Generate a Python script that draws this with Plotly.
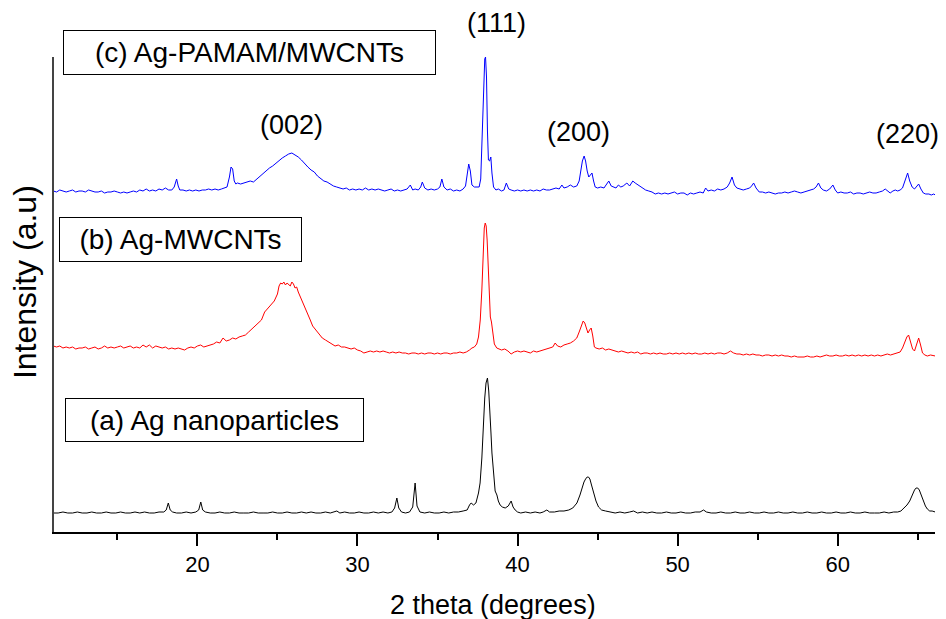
import plotly.graph_objects as go

# ---------------- data ----------------
# (c) Ag-PAMAM/MWCNTs  (blue)
two_theta_c = [
    11.0, 11.2, 11.4, 11.6, 11.8, 12.0, 12.2, 12.4, 12.6, 12.8,
    13.0, 13.2, 13.4, 13.6, 13.8, 14.0, 14.2, 14.4, 14.6, 14.8,
    15.0, 15.2, 15.4, 15.6, 15.8, 16.0, 16.2, 16.4, 16.6, 16.8,
    17.0, 17.2, 17.4, 17.6, 17.8, 18.0, 18.2, 18.4, 18.55, 18.7,
    18.8, 18.9, 19.1, 19.3, 19.5, 19.7, 19.9, 20.1, 20.3, 20.5,
    20.7, 20.9, 21.1, 21.3, 21.5, 21.7, 21.85, 22.0, 22.1, 22.2,
    22.3, 22.4, 22.5, 22.7, 22.9, 23.1, 23.3, 23.5, 23.7, 23.9,
    24.1, 24.3, 24.5, 24.7, 24.9, 25.1, 25.3, 25.5, 25.7, 25.9,
    26.1, 26.3, 26.5, 26.7, 26.9, 27.1, 27.3, 27.5, 27.7, 27.9,
    28.1, 28.3, 28.5, 28.7, 28.9, 29.1, 29.3, 29.5, 29.7, 29.9,
    30.1, 30.3, 30.5, 30.7, 30.9, 31.1, 31.3, 31.5, 31.7, 31.9,
    32.1, 32.3, 32.5, 32.7, 32.9, 33.1, 33.3, 33.45, 33.6, 33.8,
    33.95, 34.05, 34.2, 34.4, 34.6, 34.8, 35.0, 35.15, 35.27, 35.4,
    35.6, 35.8, 36.0, 36.2, 36.4, 36.6, 36.75, 36.85, 36.95, 37.05,
    37.15, 37.3, 37.45, 37.6, 37.7, 37.8, 37.88, 37.95, 38.0, 38.06,
    38.12, 38.18, 38.25, 38.33, 38.4, 38.5, 38.65, 38.8, 39.0, 39.15,
    39.3, 39.45, 39.6, 39.8, 40.0, 40.2, 40.4, 40.6, 40.8, 41.0,
    41.2, 41.4, 41.6, 41.8, 42.0, 42.2, 42.4, 42.6, 42.77, 42.9,
    43.1, 43.3, 43.5, 43.7, 43.85, 43.95, 44.05, 44.16, 44.25, 44.35,
    44.45, 44.55, 44.65, 44.75, 44.85, 45.0, 45.2, 45.4, 45.55, 45.7,
    45.85, 46.0, 46.15, 46.3, 46.45, 46.6, 46.83, 47.0, 47.2, 47.35,
    47.56, 47.8, 48.0, 48.2, 48.4, 48.6, 48.8, 49.0, 49.2, 49.4,
    49.6, 49.8, 50.0, 50.2, 50.4, 50.6, 50.8, 51.0, 51.2, 51.4,
    51.6, 51.75, 51.9, 52.1, 52.3, 52.5, 52.7, 52.9, 53.1, 53.25,
    53.4, 53.55, 53.7, 53.9, 54.1, 54.3, 54.5, 54.62, 54.75, 54.9,
    55.1, 55.3, 55.5, 55.7, 55.9, 56.1, 56.3, 56.5, 56.7, 56.9,
    57.1, 57.3, 57.5, 57.7, 57.9, 58.1, 58.3, 58.5, 58.65, 58.8,
    58.95, 59.1, 59.3, 59.5, 59.7, 59.85, 60.0, 60.2, 60.4, 60.6,
    60.8, 61.0, 61.2, 61.4, 61.6, 61.8, 62.0, 62.2, 62.4, 62.6,
    62.8, 62.97, 63.1, 63.28, 63.45, 63.6, 63.75, 63.9, 64.05, 64.2,
    64.37, 64.5, 64.65, 64.8, 64.95, 65.06, 65.2, 65.35, 65.5, 65.7,
    65.85, 66.0, 66.1,
]
intensity_c = [
    0, -1, 1, 0, -1, 0, 1, -1, 0, 0,
    -1, 1, 0, -1, -1, 0, -2, -1, -1, 0,
    -1, -2, -1, -2, -1, 0, -1, 1, 0, 2,
    0, 1, 0, 2, 1, 3, 1, 1, 4, 12,
    5, 1, 1, 0, 1, 0, 1, 0, 1, 1,
    2, 1, 2, 1, 2, 3, 4, 14, 24, 22,
    10, 7, 8, 7, 8, 9, 10, 9, 12, 15,
    17, 20, 23, 25, 28, 30, 33, 35, 37, 38,
    36, 34, 31, 27, 24, 21, 19, 15, 12, 10,
    9, 7, 5, 4, 3, 2, 3, 1, 2, 1,
    2, 1, 3, 1, 2, 1, 2, 1, 0, 1,
    2, 0, 1, 0, 1, 2, 6, 1, 2, 1,
    4, 9, 3, 1, 2, 1, 2, 4, 12, 4,
    1, 2, 0, 1, 0, 2, 5, 14, 27, 20,
    6, 4, 4, 4, 12, 60, 110, 132, 134, 114,
    60, 31, 30, 34, 18, 4, 1, 2, 0, 1,
    8, 2, 1, 0, 1, 0, 1, 0, 1, 0,
    1, 0, 2, 1, 1, 2, 3, 2, 6, 3,
    4, 6, 4, 5, 10, 20, 30, 35, 30, 20,
    14, 16, 18, 10, 4, 3, 4, 3, 6, 10,
    5, 4, 3, 6, 4, 5, 8, 5, 10, 8,
    6, 3, 1, 0, -1, -3, -2, -3, -2, -3,
    -2, -1, -3, -2, -2, -4, -2, -3, -2, -1,
    -2, 3, 0, 1, 0, 2, 1, 2, 4, 8,
    14, 6, 3, 2, 1, 2, 3, 5, 8, 3,
    -1, -1, -2, -1, -2, -3, -2, -2, -1, -2,
    -1, 0, -1, -2, -1, 0, 1, 2, 4, 8,
    3, 1, 0, 2, 6, 1, -2, -1, -2, -2,
    -1, -3, -2, -2, -3, -2, -1, -2, -2, -1,
    0, 2, 0, -2, 0, 1, 0, 1, 3, 10,
    18, 10, 4, 2, 5, 7, 2, -2, -3, -3,
    -4, -3, -4,
]

# (b) Ag-MWCNTs  (red)
two_theta_b = [
    11.0, 11.2, 11.4, 11.6, 11.8, 12.0, 12.2, 12.4, 12.6, 12.8,
    13.0, 13.2, 13.4, 13.6, 13.8, 14.0, 14.2, 14.4, 14.6, 14.8,
    15.0, 15.2, 15.4, 15.6, 15.8, 16.0, 16.2, 16.4, 16.6, 16.8,
    17.0, 17.2, 17.4, 17.6, 17.8, 18.0, 18.2, 18.4, 18.6, 18.8,
    19.0, 19.2, 19.4, 19.6, 19.8, 20.0, 20.2, 20.4, 20.6, 20.8,
    21.0, 21.2, 21.4, 21.6, 21.8, 22.0, 22.2, 22.4, 22.6, 22.8,
    23.0, 23.2, 23.4, 23.6, 23.8, 24.0, 24.2, 24.4, 24.6, 24.8,
    25.0, 25.1, 25.2, 25.3, 25.4, 25.5, 25.6, 25.7, 25.8, 25.9,
    26.0, 26.1, 26.2, 26.3, 26.45, 26.6, 26.75, 26.9, 27.05, 27.2,
    27.4, 27.6, 27.8, 28.0, 28.2, 28.4, 28.6, 28.8, 29.0, 29.2,
    29.4, 29.6, 29.8, 30.0, 30.2, 30.4, 30.6, 30.8, 31.0, 31.2,
    31.4, 31.6, 31.8, 32.0, 32.2, 32.4, 32.6, 32.8, 33.0, 33.2,
    33.4, 33.6, 33.8, 34.0, 34.2, 34.4, 34.6, 34.8, 35.0, 35.2,
    35.4, 35.6, 35.8, 36.0, 36.2, 36.4, 36.6, 36.8, 37.0, 37.15,
    37.3, 37.45, 37.56, 37.67, 37.77, 37.85, 37.92, 37.98, 38.04, 38.1,
    38.17, 38.24, 38.3, 38.37, 38.45, 38.55, 38.7, 38.85, 39.0, 39.2,
    39.4, 39.6, 39.8, 40.0, 40.2, 40.4, 40.6, 40.8, 41.0, 41.2,
    41.4, 41.6, 41.8, 42.0, 42.2, 42.35, 42.5, 42.7, 42.9, 43.1,
    43.3, 43.5, 43.7, 43.85, 44.0, 44.1, 44.2, 44.3, 44.4, 44.5,
    44.6, 44.7, 44.8, 44.9, 45.1, 45.3, 45.5, 45.7, 45.9, 46.1,
    46.3, 46.5, 46.7, 46.9, 47.1, 47.3, 47.5, 47.7, 47.9, 48.1,
    48.3, 48.5, 48.7, 48.9, 49.1, 49.3, 49.5, 49.7, 49.9, 50.1,
    50.3, 50.5, 50.7, 50.9, 51.1, 51.3, 51.5, 51.7, 51.9, 52.1,
    52.3, 52.5, 52.7, 52.9, 53.1, 53.3, 53.5, 53.7, 53.9, 54.1,
    54.3, 54.5, 54.7, 54.9, 55.1, 55.3, 55.5, 55.7, 55.9, 56.1,
    56.3, 56.5, 56.7, 56.9, 57.1, 57.3, 57.5, 57.7, 57.9, 58.1,
    58.3, 58.5, 58.7, 58.9, 59.1, 59.3, 59.5, 59.7, 59.9, 60.1,
    60.3, 60.5, 60.7, 60.9, 61.1, 61.3, 61.5, 61.7, 61.9, 62.1,
    62.3, 62.5, 62.7, 62.9, 63.1, 63.3, 63.5, 63.7, 63.9, 64.05,
    64.2, 64.32, 64.43, 64.55, 64.68, 64.8, 64.92, 65.06, 65.18, 65.3,
    65.45, 65.6, 65.8, 66.0, 66.1,
]
intensity_b = [
    4, 3, 4, 2, 3, 2, 3, 1, 2, 2,
    3, 1, 2, 3, 1, 2, 4, 2, 3, 2,
    3, 4, 2, 3, 4, 2, 3, 2, 5, 3,
    5, 2, 4, 3, 2, 3, 1, 2, 1, 2,
    1, 0, 2, 3, 2, 4, 5, 3, 4, 5,
    6, 8, 7, 12, 9, 10, 12, 11, 13, 14,
    15, 18, 21, 23, 27, 30, 38, 42, 45, 49,
    56, 64, 67, 66, 68, 65, 67, 65, 64, 68,
    66, 62, 63, 58, 52, 47, 40, 34, 30, 24,
    20, 16, 12, 10, 8, 6, 4, 5, 3, 3,
    2, 1, 2, 0, -1, -3, -2, -1, -2, -1,
    -2, -1, -2, -3, -2, -3, -2, -3, -3, -4,
    -3, -3, -4, -3, -4, -3, -3, -4, -3, -4,
    -3, -3, -4, -3, -3, -2, -3, -2, 0, 2,
    3, 6, 13, 30, 60, 100, 122, 127, 124, 110,
    80, 50, 33, 28, 15, 6, 2, 1, 0, 1,
    -1, -4, -2, -1, -2, -1, -2, -3, -1, -2,
    -1, 0, 1, 2, 3, 7, 4, 3, 5, 6,
    7, 9, 12, 18, 24, 29, 27, 22, 17, 20,
    22, 14, 3, 2, 1, 2, 0, 1, 0, -1,
    -2, -1, -2, -3, -2, -3, -2, -4, -3, -3,
    -4, -3, -4, -3, -4, -4, -3, -4, -3, -4,
    -3, -4, -3, -4, -3, -4, -4, -3, -4, -3,
    -4, -3, -3, -4, -3, -1, -3, -4, -4, -5,
    -4, -5, -4, -5, -5, -6, -5, -5, -6, -5,
    -6, -5, -6, -6, -7, -6, -7, -7, -7, -6,
    -7, -7, -6, -7, -6, -5, -6, -6, -5, -6,
    -6, -5, -6, -5, -6, -5, -6, -5, -6, -5,
    -6, -5, -6, -5, -4, -5, -4, -3, -2, 2,
    8, 13, 15, 8, 1, -1, 6, 12, 5, -3,
    -5, -6, -5, -6, -6,
]

# (a) Ag nanoparticles  (black)
two_theta_a = [
    11.0, 11.3, 11.6, 11.9, 12.2, 12.5, 12.8, 13.1, 13.4, 13.7,
    14.0, 14.3, 14.6, 14.9, 15.2, 15.5, 15.8, 16.1, 16.4, 16.7,
    17.0, 17.3, 17.6, 17.9, 18.05, 18.18, 18.3, 18.45, 18.7, 19.0,
    19.3, 19.6, 19.9, 20.08, 20.21, 20.33, 20.5, 20.8, 21.1, 21.4,
    21.7, 22.0, 22.3, 22.6, 22.9, 23.2, 23.5, 23.8, 24.1, 24.4,
    24.7, 25.0, 25.3, 25.6, 25.9, 26.2, 26.5, 26.8, 27.1, 27.4,
    27.7, 28.0, 28.3, 28.55, 28.71, 28.9, 29.2, 29.5, 29.8, 30.1,
    30.4, 30.7, 31.0, 31.3, 31.6, 31.9, 32.15, 32.32, 32.46, 32.58,
    32.75, 33.0, 33.25, 33.45, 33.6, 33.72, 33.9, 34.2, 34.5, 34.8,
    35.1, 35.4, 35.7, 36.0, 36.3, 36.6, 36.85, 37.0, 37.1, 37.25,
    37.4, 37.56, 37.66, 37.77, 37.87, 37.95, 38.03, 38.12, 38.2, 38.27,
    38.34, 38.4, 38.5, 38.6, 38.71, 38.8, 38.91, 39.05, 39.23, 39.42,
    39.6, 39.72, 39.85, 40.0, 40.2, 40.5, 40.8, 41.1, 41.4, 41.6,
    41.83, 42.0, 42.3, 42.6, 42.9, 43.2, 43.45, 43.71, 43.9, 44.05,
    44.15, 44.25, 44.35, 44.43, 44.52, 44.62, 44.75, 44.9, 45.06, 45.25,
    45.5, 45.8, 46.1, 46.4, 46.7, 47.0, 47.25, 47.5, 47.8, 48.1,
    48.4, 48.7, 49.0, 49.3, 49.6, 49.9, 50.2, 50.5, 50.8, 51.1,
    51.4, 51.62, 51.8, 52.1, 52.4, 52.7, 53.0, 53.3, 53.6, 53.9,
    54.2, 54.5, 54.8, 55.1, 55.4, 55.7, 56.0, 56.3, 56.6, 56.9,
    57.2, 57.5, 57.8, 58.1, 58.4, 58.7, 59.0, 59.3, 59.6, 59.9,
    60.2, 60.5, 60.8, 61.1, 61.4, 61.7, 62.0, 62.3, 62.6, 62.9,
    63.2, 63.5, 63.75, 63.95, 64.1, 64.2, 64.33, 64.5, 64.65, 64.8,
    64.9, 65.0, 65.1, 65.22, 65.35, 65.48, 65.6, 65.75, 65.9, 66.1,
]
intensity_a = [
    0, 0, 1, 0, 0, 1, 0, 0, 1, 0,
    0, 1, 0, 0, 1, 0, 0, 1, 0, 1,
    0, 0, 1, 1, 3, 10, 3, 1, 0, 0,
    1, 0, 1, 3, 11, 3, 1, 0, 0, 1,
    0, 0, 1, 0, 0, 0, 1, 0, 0, 0,
    1, 0, 0, 1, 0, 0, 1, 0, 1, 0,
    0, 1, 0, 1, 2, 0, 1, 0, 0, 1,
    0, 0, 1, 0, 1, 0, 1, 5, 15, 5,
    1, 0, 1, 6, 30, 7, 1, 0, 1, 0,
    0, 1, 0, 1, 1, 2, 3, 8, 10, 8,
    10, 20, 30, 55, 93, 115, 130, 135, 122, 105,
    80, 60, 38, 22, 18, 12, 8, 6, 5, 7,
    12, 6, 3, 1, 0, 1, 0, 1, 0, 1,
    3, 1, 1, 2, 2, 3, 5, 10, 18, 27,
    31, 34, 36, 36, 34, 28, 20, 12, 6, 3,
    2, 1, 0, 1, 0, 1, 2, 0, 1, 0,
    1, 0, 0, 1, 0, 0, 1, 0, 0, 1,
    1, 3, 1, 0, 0, 1, 0, 0, 1, 0,
    0, 1, 0, 0, 1, 0, 0, 1, 0, 0,
    1, 0, 0, 1, 0, 0, 1, 0, 0, 1,
    0, 0, 1, 0, 0, 1, 0, 0, 0, 1,
    0, 1, 1, 2, 4, 6, 8, 12, 18, 23,
    25, 25, 23, 18, 12, 7, 4, 2, 2, 1,
]

# vertical stacking offsets (a.u.) for (a), (b), (c)
offsets = [19, 182, 341]
series_labels = ["(a) Ag nanoparticles", "(b) Ag-MWCNTs", "(c) Ag-PAMAM/MWCNTs"]
series_colors = ["#000000", "#FF0000", "#0000FF"]

# Miller index labels and their (2theta, a.u.) positions
hkl_labels = ["(111)", "(002)", "(200)", "(220)"]
hkl_x = [38.70, 25.90, 43.79, 64.38]
hkl_y = [509, 407, 400, 398]

x_ticks = [20, 30, 40, 50, 60]

# ---------------- figure ----------------
FONT = "Arial, Liberation Sans, sans-serif"
X_RANGE = [11.04, 66.08]
Y_RANGE = [0, 475]


def px(v):
    return (v - X_RANGE[0]) / (X_RANGE[1] - X_RANGE[0])


def py(v):
    return (v - Y_RANGE[0]) / (Y_RANGE[1] - Y_RANGE[0])


fig = go.Figure()

series = [(two_theta_a, intensity_a), (two_theta_b, intensity_b), (two_theta_c, intensity_c)]
for (xs, ys), off, col, name in zip(series, offsets, series_colors, series_labels):
    fig.add_trace(go.Scatter(
        x=xs, y=[v + off for v in ys], mode="lines", name=name,
        line=dict(color=col, width=1), showlegend=False, hoverinfo="skip",
    ))

annotations = []
# boxed series labels: (text, x, y, width, height)
box_specs = [
    (series_labels[2], 23.26, 479.5, 371, 43),
    (series_labels[1], 18.95, 292.5, 241, 43),
    (series_labels[0], 21.07, 112.3, 297, 42),
]
for text, bx, by, bw, bh in box_specs:
    annotations.append(dict(
        x=px(bx), y=py(by), xref="paper", yref="paper", text=text, showarrow=False,
        xanchor="center", yanchor="middle", align="center",
        width=bw, height=bh, bordercolor="#000000", borderwidth=1, borderpad=0,
        bgcolor="white", font=dict(family=FONT, size=28, color="black"),
    ))
for t, hx, hy in zip(hkl_labels, hkl_x, hkl_y):
    annotations.append(dict(
        x=px(hx), y=py(hy), xref="paper", yref="paper", text=t, showarrow=False,
        xanchor="center", yanchor="middle",
        font=dict(family=FONT, size=27, color="black"),
    ))
# axis titles
annotations.append(dict(
    x=0.498, y=-0.1537, xref="paper", yref="paper", text="2 theta (degrees)",
    showarrow=False, xanchor="center", yanchor="middle",
    font=dict(family=FONT, size=27, color="black"),
))
annotations.append(dict(
    x=-0.033, y=0.526, xref="paper", yref="paper", text="Intensity (a.u)",
    showarrow=False, xanchor="center", yanchor="middle", textangle=-90,
    font=dict(family=FONT, size=32, color="black"),
))

fig.update_layout(
    width=946, height=619,
    margin=dict(l=54, r=11, t=57, b=87),
    paper_bgcolor="white", plot_bgcolor="white",
    font=dict(family=FONT, color="black"),
    annotations=annotations,
    xaxis=dict(
        range=X_RANGE, showgrid=False, zeroline=False,
        showline=True, linecolor="black", linewidth=2,
        tickmode="array", tickvals=x_ticks, ticks="outside",
        ticklen=12, tickwidth=2, tickcolor="black",
        tickfont=dict(family=FONT, size=22, color="black"),
        minor=dict(dtick=5, tick0=0, ticks="outside", ticklen=6, tickwidth=2, tickcolor="black"),
    ),
    yaxis=dict(
        range=Y_RANGE, showgrid=False, zeroline=False,
        showline=True, linecolor="#444444", linewidth=1.5,
        ticks="", showticklabels=False,
    ),
)

fig.write_html("out.html")
